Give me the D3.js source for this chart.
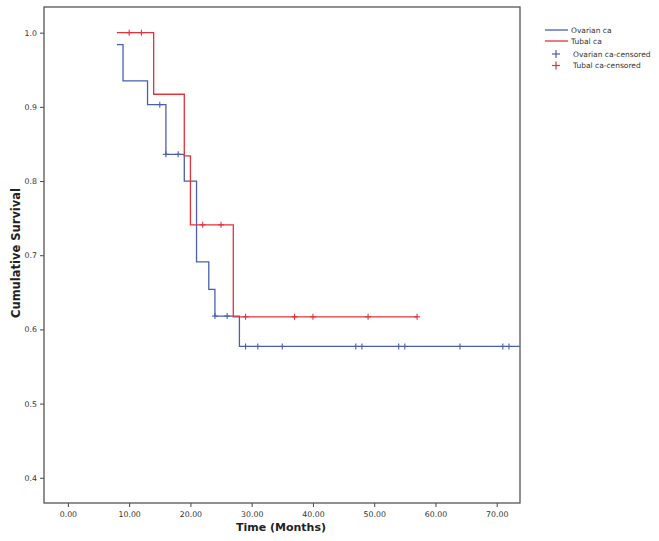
<!DOCTYPE html>
<html><head><meta charset="utf-8">
<script src="https://cdn.jsdelivr.net/npm/d3@7"></script>
<style>body{margin:0;background:#fff}svg{display:block}</style>
</head><body>
<script>
// Data (Kaplan–Meier steps)
const ovarianTimes = [8, 9, 13, 16, 19, 21, 23, 24, 28, 73.8];
const ovarianSurv  = [0.984, 0.935, 0.903, 0.836, 0.800, 0.691, 0.654, 0.618, 0.577, 0.577];
const ovarianCensored = [15, 16, 18, 24, 26, 29, 31, 35, 47, 48, 54, 55, 64, 71, 72];
const tubalTimes = [8, 14, 19, 20, 27, 57];
const tubalSurv  = [1.0, 0.917, 0.834, 0.741, 0.617, 0.617];
const tubalCensored = [10, 12, 22, 25, 29, 37, 40, 49, 57];
const xTicks = [0, 10, 20, 30, 40, 50, 60, 70];
const yTicks = [0.4, 0.5, 0.6, 0.7, 0.8, 0.9, 1.0];
const seriesNames = ["Ovarian ca", "Tubal ca", "Ovarian ca-censored", "Tubal ca-censored"];
const colors = {ovarian: "#4a5fae", tubal: "#e2323b"};

const W = 659, H = 541;
const L = 44, R = 520, T = 7, B = 503;
const svg = d3.select("body").append("svg").attr("width", W).attr("height", H);

const x = d3.scaleLinear().domain([-3.9, 73.8]).range([L, R]);
const y = d3.scaleLinear().domain([0.366, 1.0346]).range([B, T]);

svg.append("defs").append("clipPath").attr("id", "clip")
  .append("rect").attr("x", L).attr("y", T).attr("width", R - L).attr("height", B - T);

const font = "'DejaVu Sans', Arial, sans-serif";

// Axes
const xAxis = d3.axisBottom(x).tickValues(xTicks).tickFormat(d3.format(".2f")).tickSize(4).tickSizeOuter(0);
const gx = svg.append("g").attr("transform", `translate(0,${B})`).call(xAxis);
gx.select(".domain").remove();
gx.selectAll(".tick line").attr("stroke", "#444");
gx.selectAll(".tick text").attr("font-family", font).attr("font-size", 7.8).attr("fill", "#333").attr("dy", "0.9em");

const yAxis = d3.axisLeft(y).tickValues(yTicks).tickFormat(d3.format(".1f")).tickSize(4).tickSizeOuter(0);
const gy = svg.append("g").attr("transform", `translate(${L},0)`).call(yAxis);
gy.select(".domain").remove();
gy.selectAll(".tick line").attr("stroke", "#444");
gy.selectAll(".tick text").attr("font-family", font).attr("font-size", 7.8).attr("fill", "#333");

// Frame
svg.append("rect").attr("x", L).attr("y", T).attr("width", R - L).attr("height", B - T)
  .attr("fill", "none").attr("stroke", "#555").attr("stroke-width", 1.3);

// Step lines
function stepLine(times, surv) {
  return d3.line().x(d => x(d[0])).y(d => y(d[1])).curve(d3.curveStepAfter)(times.map((t, i) => [t, surv[i]]));
}
function survAt(times, surv, t) {
  let v = surv[0];
  for (let i = 0; i < times.length; i++) if (times[i] <= t) v = surv[i];
  return v;
}
const plot = svg.append("g").attr("clip-path", "url(#clip)");
plot.append("path").attr("d", stepLine(ovarianTimes, ovarianSurv))
  .attr("fill", "none").attr("stroke", colors.ovarian).attr("stroke-width", 1.3);
plot.append("path").attr("d", stepLine(tubalTimes, tubalSurv))
  .attr("fill", "none").attr("stroke", colors.tubal).attr("stroke-width", 1.3);

function censorMarks(list, times, surv, color) {
  const s = 3;
  list.forEach(t => {
    const cx = x(t), cy = y(survAt(times, surv, t));
    plot.append("line").attr("x1", cx).attr("x2", cx).attr("y1", cy - s).attr("y2", cy + s).attr("stroke", color).attr("stroke-width", 1.1);
    plot.append("line").attr("x1", cx - s).attr("x2", cx + s).attr("y1", cy).attr("y2", cy).attr("stroke", color).attr("stroke-width", 1.1);
  });
}
censorMarks(ovarianCensored, ovarianTimes, ovarianSurv, colors.ovarian);
censorMarks(tubalCensored, tubalTimes, tubalSurv, colors.tubal);

// Axis titles
svg.append("text").attr("x", (L + R) / 2 - 1).attr("y", 531).attr("text-anchor", "middle")
  .attr("font-family", font).attr("font-weight", "bold").attr("font-size", 11).attr("fill", "#222")
  .text("Time (Months)");
svg.append("text").attr("transform", `translate(20,${(T + B) / 2 - 2}) rotate(-90)`).attr("text-anchor", "middle")
  .attr("font-family", font).attr("font-weight", "bold").attr("font-size", 11.5).attr("fill", "#222")
  .text("Cumulative Survival");

// Legend
const leg = svg.append("g").attr("font-family", font).attr("font-size", 7.5).attr("fill", "#333");
const legY = [30, 41, 54, 65.5];
const legColors = [colors.ovarian, colors.tubal, colors.ovarian, colors.tubal];
seriesNames.forEach((name, i) => {
  if (i < 2) {
    leg.append("line").attr("x1", 545).attr("x2", 568).attr("y1", legY[i]).attr("y2", legY[i])
      .attr("stroke", legColors[i]).attr("stroke-width", 1.3);
    leg.append("text").attr("x", 571).attr("y", legY[i]).attr("dy", "0.35em").text(name);
  } else {
    const cx = 556, cy = legY[i], s = 4;
    leg.append("line").attr("x1", cx).attr("x2", cx).attr("y1", cy - s).attr("y2", cy + s).attr("stroke", legColors[i]).attr("stroke-width", 1.2);
    leg.append("line").attr("x1", cx - s).attr("x2", cx + s).attr("y1", cy).attr("y2", cy).attr("stroke", legColors[i]).attr("stroke-width", 1.2);
    leg.append("text").attr("x", 573).attr("y", cy).attr("dy", "0.35em").text(name);
  }
});
</script>
</body></html>
